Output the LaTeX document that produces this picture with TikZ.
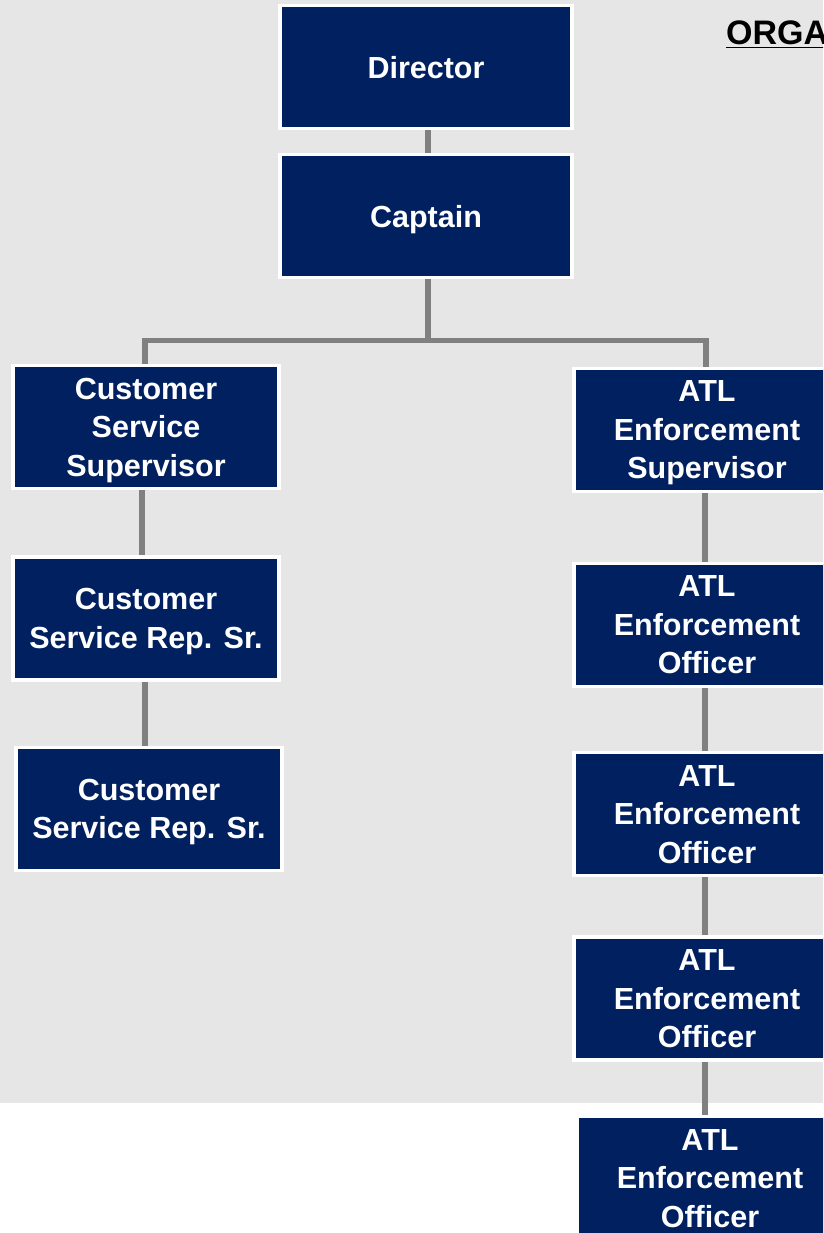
\documentclass[tikz,border=0pt]{standalone}
\usepackage{fontspec}
\setmainfont{Liberation Sans}
\definecolor{navy}{HTML}{002060}
\definecolor{bggray}{HTML}{E7E6E6}
\definecolor{linegray}{HTML}{808080}
\begin{document}
\begin{tikzpicture}[x=1pt,y=-1pt,
  orgbox/.style={rectangle, fill=navy, draw=white, line width=3.5pt, inner sep=0pt,
    minimum width=266pt, minimum height=123pt, text=white, align=center, text depth=0pt,
    font=\fontsize{30.5}{38.5}\selectfont\bfseries},
  widebox/.style={orgbox, minimum width=292pt},
  conn/.style={draw=linegray, line width=5.5pt, line cap=butt}]
\useasboundingbox (0,0) rectangle (823,1233);
\clip (0,0) rectangle (823,1233);
\fill[bggray] (0,0) rectangle (823,1103);
% title
\node[anchor=base west, inner sep=0pt, font=\fontsize{34}{38}\selectfont\bfseries] (title) at (726,45) {\underline{ORGA}};
% boxes
\node[widebox] (dir) at (426,67) {Director};
\node[widebox] (cap) at (426,216) {Captain};
\node[orgbox] (css) at (146,427) {Customer\\Service\\Supervisor};
\node[orgbox] (csr1) at (146,618.5) {Customer\\Service Rep. Sr.};
\node[orgbox] (csr2) at (149,809) {Customer\\Service Rep. Sr.};
\node[orgbox] (atls) at (707,430) {ATL\\Enforcement\\Supervisor};
\node[orgbox] (off1) at (707,625) {ATL\\Enforcement\\Officer};
\node[orgbox] (off2) at (707,814) {ATL\\Enforcement\\Officer};
\node[orgbox] (off3) at (707,998.5) {ATL\\Enforcement\\Officer};
\node[orgbox] (off4) at (710,1178) {ATL\\Enforcement\\Officer};
% connectors
\draw[conn] ([xshift=2pt]dir.south) -- ([xshift=2pt]cap.north);
\draw[conn, line join=miter] ([xshift=2pt]cap.south) -- ++(0,61) -| ([xshift=-1pt]css.north);
\draw[conn, line join=miter] ([xshift=2pt]cap.south) -- ++(0,61) -| ([xshift=-1pt]atls.north);
\draw[conn] ([xshift=-4pt]css.south) -- ([xshift=-4pt]csr1.north);
\draw[conn] ([xshift=-1pt]csr1.south) -- ([xshift=-4pt]csr2.north);
\draw[conn] ([xshift=-2pt]atls.south) -- ([xshift=-2pt]off1.north);
\draw[conn] ([xshift=-2pt]off1.south) -- ([xshift=-2pt]off2.north);
\draw[conn] ([xshift=-2pt]off2.south) -- ([xshift=-2pt]off3.north);
\draw[conn] ([xshift=-2pt]off3.south) -- ([xshift=-5pt]off4.north);
\end{tikzpicture}
\end{document}
